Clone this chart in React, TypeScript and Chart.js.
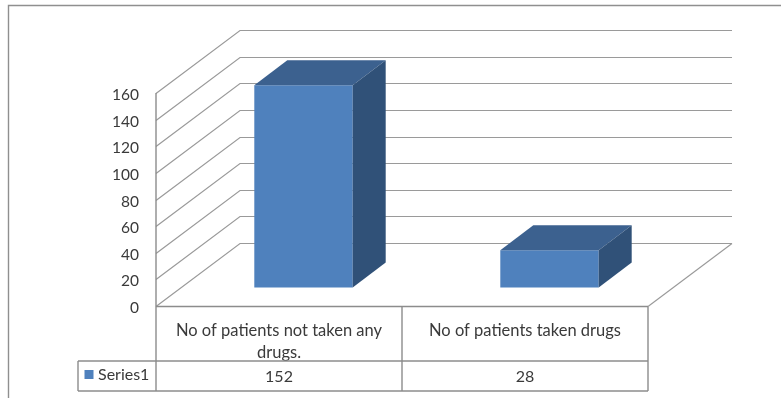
import React, { useEffect, useRef } from "react";
import { Chart, registerables } from "chart.js";

Chart.register(...registerables);

const categories = [["No of patients not taken any", "drugs."], "No of patients taken drugs"];
const seriesName = "Series1";
const patientCounts = [152, 28];

const FONT = "Lato, 'Open Sans', sans-serif";
const TEXT = "#3a3a3a";
const LINE = "#9a9a9a";
const TABLE_LINE = "#8c8c8c";

// Oblique offset from the front of the floor to the back wall.
const WALL_DX = 84;
const WALL_DY = -63;
// Bars stand part-way back on the floor and have their own depth.
const BAR_SHIFT_X = 24.5;
const BAR_SHIFT_Y = -18.5;
const BAR_DEPTH_X = 33;
const BAR_DEPTH_Y = -25;
// Value labels sit slightly below their tick position.
const Y_LABEL_DROP = 2;

const stroke = (ctx: CanvasRenderingContext2D, pts: number[][], color: string, width: number) => {
  ctx.strokeStyle = color;
  ctx.lineWidth = width;
  ctx.beginPath();
  pts.forEach(([x, y], i) => (i ? ctx.lineTo(x, y) : ctx.moveTo(x, y)));
  ctx.stroke();
};

const fillPoly = (ctx: CanvasRenderingContext2D, pts: number[][], color: string) => {
  ctx.fillStyle = color;
  ctx.beginPath();
  pts.forEach(([x, y], i) => (i ? ctx.lineTo(x, y) : ctx.moveTo(x, y)));
  ctx.closePath();
  ctx.fill();
};

// Side walls, floor and gridlines of the oblique plot box.
const wallsPlugin = {
  id: "walls",
  beforeDraw(chart: any) {
    chart.scales.y.getLabelItems().forEach((item: any) => {
      if (!item.dropped) {
        item.textOffset += Y_LABEL_DROP;
        item.dropped = true;
      }
    });
  },
  beforeDatasetsDraw(chart: any) {
    const { ctx } = chart;
    const y = chart.scales.y;
    const x = chart.scales.x;
    ctx.save();
    y.ticks.forEach((t: any) => {
      const py = Math.round(y.getPixelForValue(t.value)) + 0.5;
      stroke(ctx, [[x.left, py], [x.left + WALL_DX, py + WALL_DY], [x.right + WALL_DX, py + WALL_DY]], LINE, 1.2);
    });
    stroke(ctx, [[x.right, y.bottom + 0.5], [x.right + WALL_DX, y.bottom + 0.5 + WALL_DY]], LINE, 1.2);
    ctx.restore();
  },
  beforeDatasetDraw(chart: any) {
    chart.ctx.save();
    chart.ctx.translate(BAR_SHIFT_X, BAR_SHIFT_Y);
  },
  afterDatasetDraw(chart: any, args: any) {
    const { ctx } = chart;
    args.meta.data.forEach((bar: any) => {
      const { x, y, base, width } = bar.getProps(["x", "y", "base", "width"], true);
      const l = x - width / 2;
      const r = x + width / 2;
      fillPoly(ctx, [[l, y], [r, y], [r + BAR_DEPTH_X, y + BAR_DEPTH_Y], [l + BAR_DEPTH_X, y + BAR_DEPTH_Y]], "#3c618f");
      fillPoly(ctx, [[r, y], [r + BAR_DEPTH_X, y + BAR_DEPTH_Y], [r + BAR_DEPTH_X, base + BAR_DEPTH_Y], [r, base]], "#305178");
    });
    ctx.restore();
  },
};

// Data table under the plot plus the outer chart frame.
const tablePlugin = {
  id: "dataTable",
  afterDraw(chart: any) {
    const { ctx } = chart;
    const x = chart.scales.x;
    const y = chart.scales.y;
    const rowTop = y.bottom + 0.5;
    const rowMid = 361;
    const rowBottom = 391;
    const legendLeft = 78;
    ctx.save();
    stroke(ctx, [[8.5, 398], [8.5, 5.5], [781, 5.5]], "#8f8f8f", 1.4);
    stroke(ctx, [[x.left, rowTop], [x.right, rowTop]], TABLE_LINE, 1.4);
    stroke(ctx, [[legendLeft, rowMid], [x.right, rowMid]], TABLE_LINE, 1.4);
    stroke(ctx, [[legendLeft, rowBottom], [x.right, rowBottom]], TABLE_LINE, 1.4);
    stroke(ctx, [[legendLeft, rowMid], [legendLeft, rowBottom]], TABLE_LINE, 1.4);
    stroke(ctx, [[x.left, y.top], [x.left, rowBottom]], TABLE_LINE, 1.4);
    const midX = Math.floor((x.left + x.right) / 2);
    stroke(ctx, [[midX, rowTop], [midX, rowBottom]], TABLE_LINE, 1.4);
    stroke(ctx, [[x.right, rowTop], [x.right, rowBottom]], TABLE_LINE, 1.4);

    ctx.font = `16px ${FONT}`;
    ctx.fillStyle = TEXT;
    ctx.textBaseline = "middle";
    ctx.textAlign = "center";
    const dataset = chart.data.datasets[0];
    dataset.data.forEach((v: number, i: number) => {
      ctx.fillText(String(v), x.getPixelForValue(i), 376.5);
    });
    ctx.textAlign = "left";
    ctx.fillText(dataset.label, 98, 375);
    ctx.fillStyle = dataset.backgroundColor;
    ctx.fillRect(84.5, 370, 9, 9);
    ctx.restore();
  },
};

export default function App() {
  const ref = useRef<HTMLCanvasElement>(null);

  useEffect(() => {
    const chart = new Chart(ref.current!, {
      type: "bar",
      data: {
        labels: categories,
        datasets: [
          {
            label: seriesName,
            data: patientCounts,
            backgroundColor: "#4f81bd",
            barPercentage: 0.4,
            categoryPercentage: 1,
            clip: false,
          },
        ],
      },
      options: {
        responsive: false,
        animation: false,
        layout: { padding: { top: 93, right: 133, left: 0, bottom: 0 } },
        plugins: { legend: { display: false }, title: { display: false }, tooltip: { enabled: false } },
        scales: {
          x: {
            grid: { display: false, drawTicks: false },
            border: { display: false },
            afterFit(scale: any) {
              scale.height = 92;
            },
            ticks: {
              color: TEXT,
              font: { family: FONT, size: 16.5, lineHeight: 1.32 },
              padding: 14,
              autoSkip: false,
              maxRotation: 0,
              minRotation: 0,
            },
          },
          y: {
            min: 0,
            max: 160,
            grid: { display: false, drawTicks: false },
            border: { display: false },
            afterFit(scale: any) {
              scale.width = 156;
            },
            ticks: {
              stepSize: 20,
              color: TEXT,
              font: { family: FONT, size: 15.5 },
              padding: 17,
            },
          },
        },
      },
      plugins: [wallsPlugin, tablePlugin],
    } as any);
    return () => chart.destroy();
  }, []);

  return (
    <div style={{ position: "fixed", left: 0, top: 0, width: 781, height: 398, background: "#fff" }}>
      <canvas ref={ref} width={781} height={398} style={{ display: "block" }} />
    </div>
  );
}
